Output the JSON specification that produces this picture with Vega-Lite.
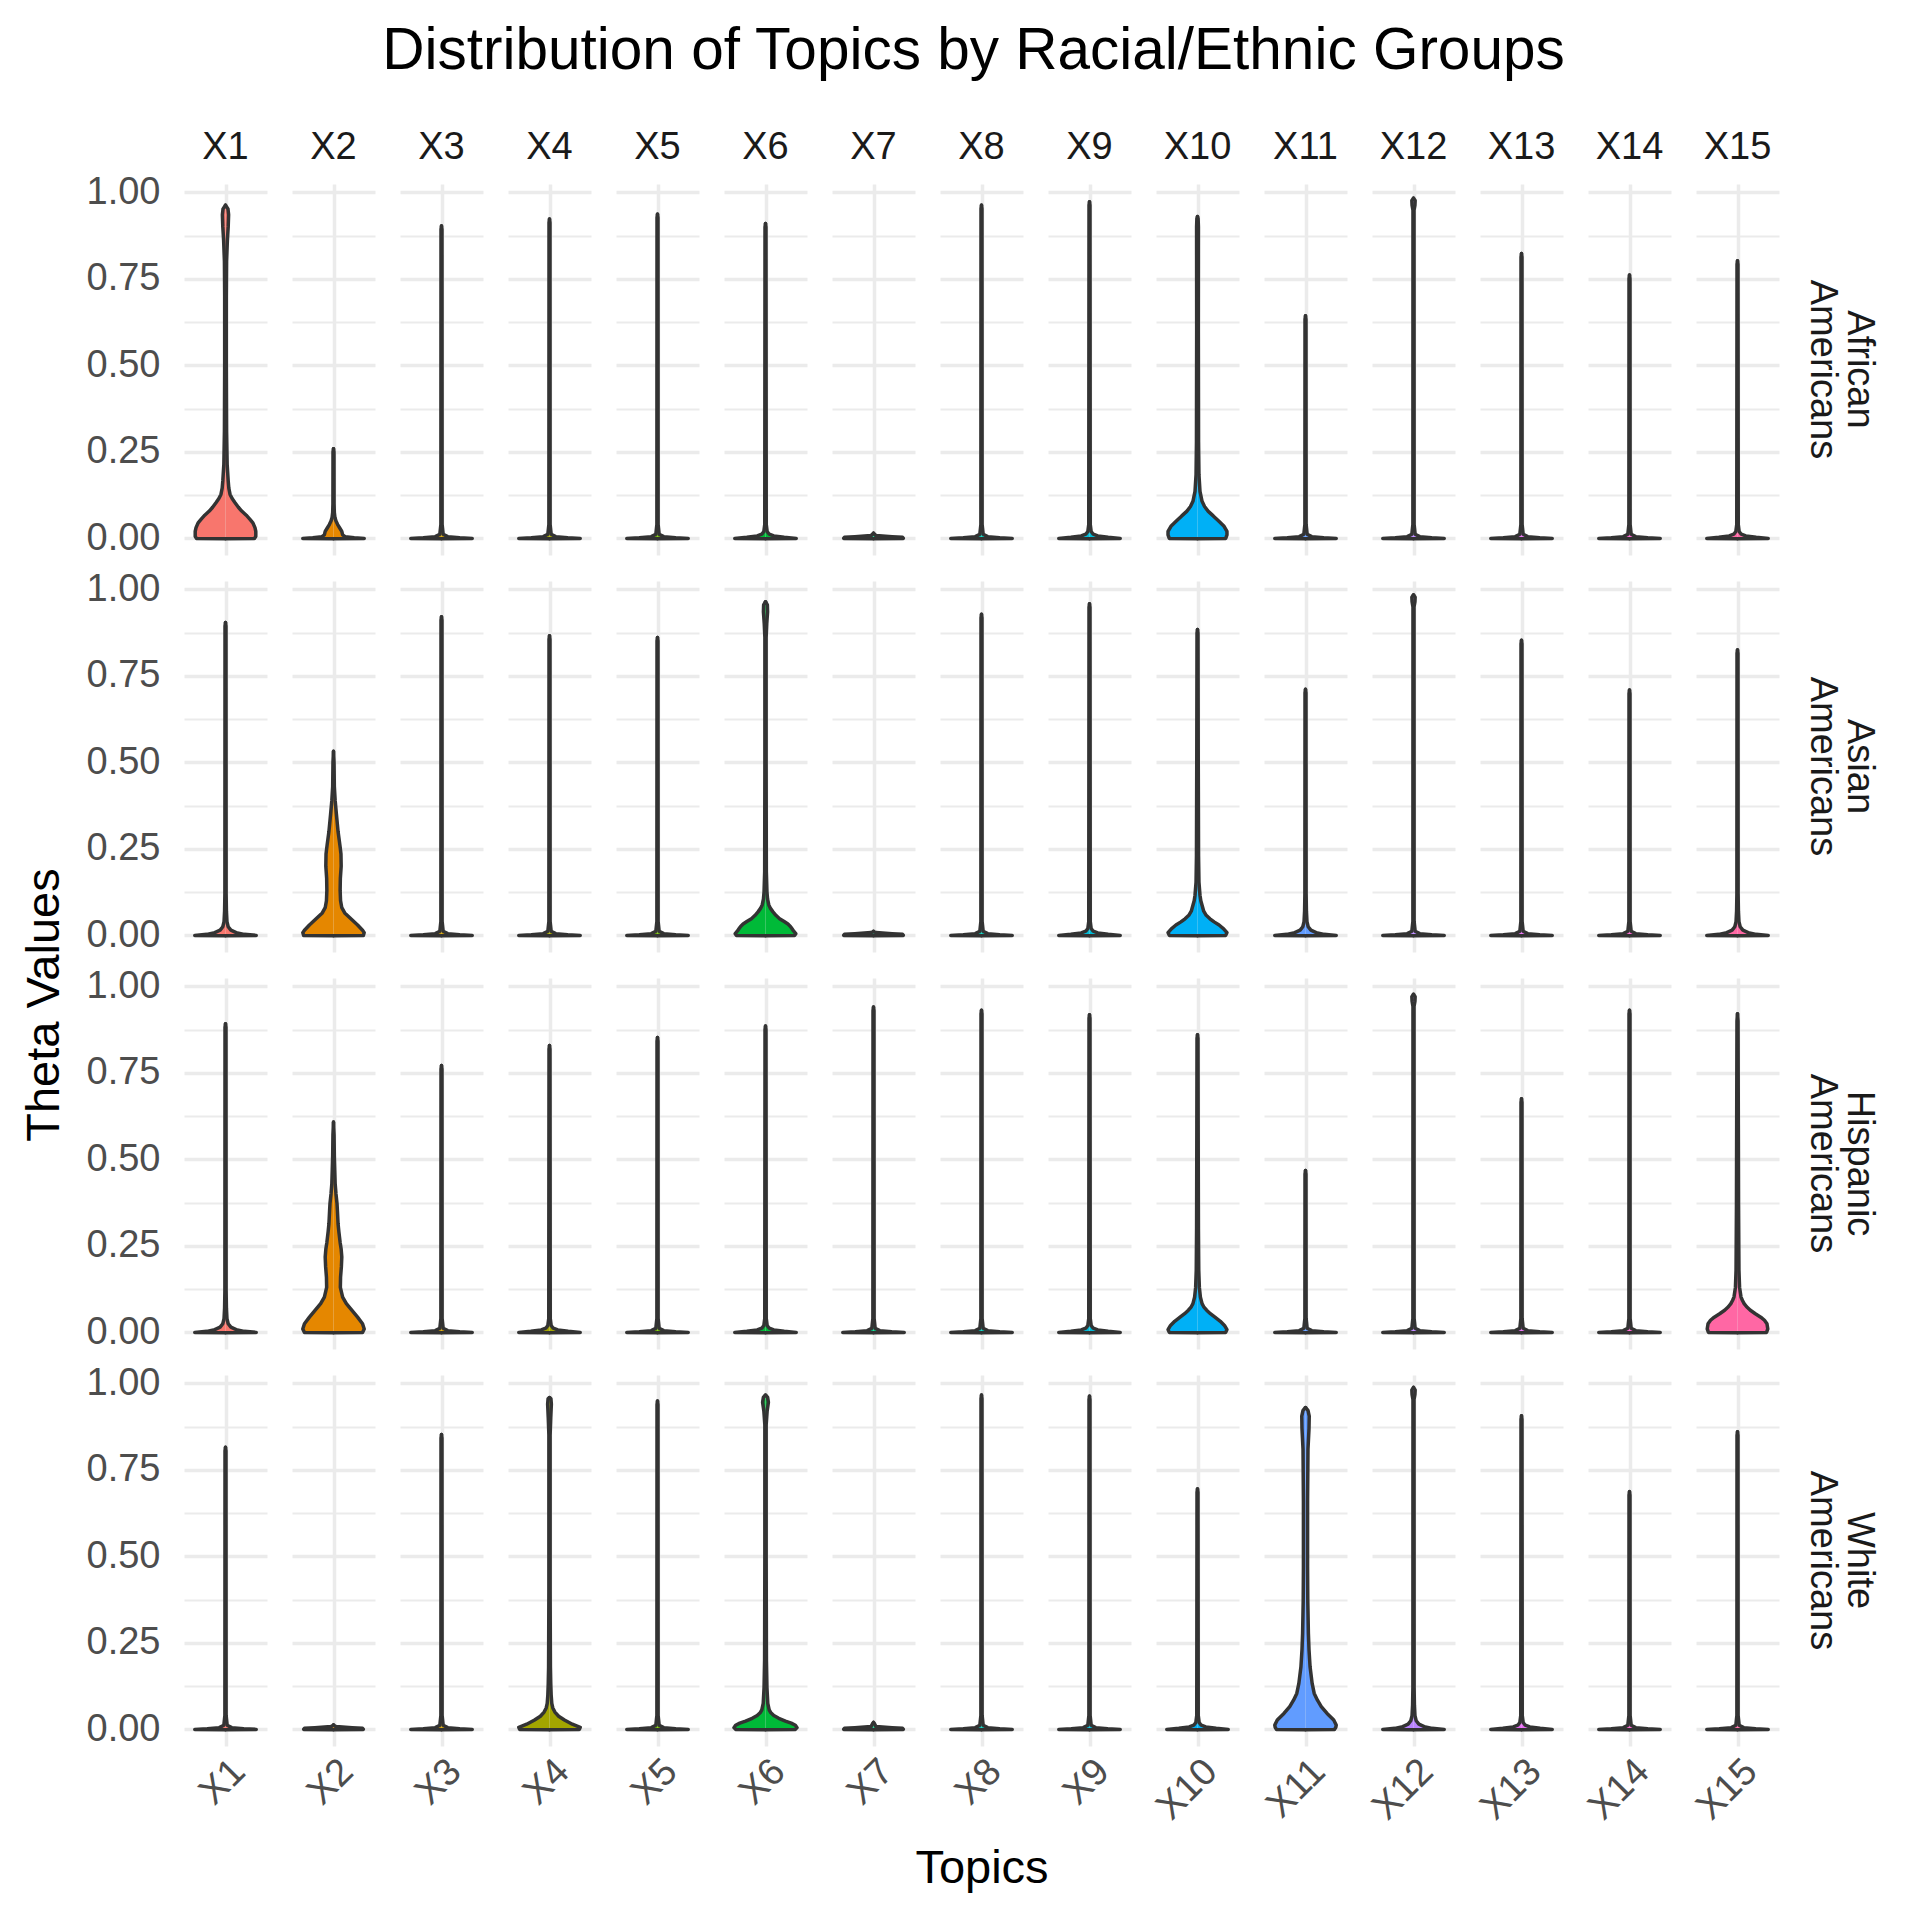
{
"$schema":"https://vega.github.io/schema/vega-lite/v6.json",
"background":"white",
"padding":{"left":20,"top":21,"right":30,"bottom":30},
"title":{"text":"Distribution of Topics by Racial/Ethnic Groups","fontSize":58.5,"fontWeight":"normal","font":"Liberation Sans","color":"#000000","anchor":"middle","offset":48,"dx":24},
"config":{"view":{"stroke":null},"font":"Liberation Sans"},
"data":{"values":[
{"group":"African Americans","topic":"X1","theta":-0.001,"w":0},{"group":"African Americans","topic":"X1","theta":0,"w":0.70},{"group":"African Americans","topic":"X1","theta":0.006,"w":0.73},{"group":"African Americans","topic":"X1","theta":0.02,"w":0.73},{"group":"African Americans","topic":"X1","theta":0.031,"w":0.71},{"group":"African Americans","topic":"X1","theta":0.045,"w":0.66},{"group":"African Americans","topic":"X1","theta":0.055,"w":0.59},{"group":"African Americans","topic":"X1","theta":0.067,"w":0.5},{"group":"African Americans","topic":"X1","theta":0.079,"w":0.39},{"group":"African Americans","topic":"X1","theta":0.09,"w":0.31},{"group":"African Americans","topic":"X1","theta":0.103,"w":0.23},{"group":"African Americans","topic":"X1","theta":0.115,"w":0.16},{"group":"African Americans","topic":"X1","theta":0.127,"w":0.11},{"group":"African Americans","topic":"X1","theta":0.145,"w":0.08},{"group":"African Americans","topic":"X1","theta":0.166,"w":0.065},{"group":"African Americans","topic":"X1","theta":0.214,"w":0.04},{"group":"African Americans","topic":"X1","theta":0.31,"w":0.026},{"group":"African Americans","topic":"X1","theta":0.5,"w":0.02},{"group":"African Americans","topic":"X1","theta":0.7,"w":0.02},{"group":"African Americans","topic":"X1","theta":0.8,"w":0.026},{"group":"African Americans","topic":"X1","theta":0.86,"w":0.045},{"group":"African Americans","topic":"X1","theta":0.9,"w":0.065},{"group":"African Americans","topic":"X1","theta":0.935,"w":0.075},{"group":"African Americans","topic":"X1","theta":0.952,"w":0.06},{"group":"African Americans","topic":"X1","theta":0.963,"w":0},
{"group":"African Americans","topic":"X2","theta":-0.001,"w":0},{"group":"African Americans","topic":"X2","theta":0,"w":0.74},{"group":"African Americans","topic":"X2","theta":0.002,"w":0.5},{"group":"African Americans","topic":"X2","theta":0.005,"w":0.28},{"group":"African Americans","topic":"X2","theta":0.01,"w":0.22},{"group":"African Americans","topic":"X2","theta":0.02,"w":0.2},{"group":"African Americans","topic":"X2","theta":0.03,"w":0.15},{"group":"African Americans","topic":"X2","theta":0.04,"w":0.1},{"group":"African Americans","topic":"X2","theta":0.05,"w":0.06},{"group":"African Americans","topic":"X2","theta":0.06,"w":0.035},{"group":"African Americans","topic":"X2","theta":0.075,"w":0.02},{"group":"African Americans","topic":"X2","theta":0.1,"w":0.014},{"group":"African Americans","topic":"X2","theta":0.25,"w":0.012},{"group":"African Americans","topic":"X2","theta":0.259,"w":0},
{"group":"African Americans","topic":"X3","theta":-0.001,"w":0},{"group":"African Americans","topic":"X3","theta":0,"w":0.74},{"group":"African Americans","topic":"X3","theta":0.002,"w":0.44},{"group":"African Americans","topic":"X3","theta":0.005,"w":0.15},{"group":"African Americans","topic":"X3","theta":0.012,"w":0.04},{"group":"African Americans","topic":"X3","theta":0.04,"w":0.015},{"group":"African Americans","topic":"X3","theta":0.893,"w":0.012},{"group":"African Americans","topic":"X3","theta":0.903,"w":0},
{"group":"African Americans","topic":"X4","theta":-0.001,"w":0},{"group":"African Americans","topic":"X4","theta":0,"w":0.74},{"group":"African Americans","topic":"X4","theta":0.002,"w":0.44},{"group":"African Americans","topic":"X4","theta":0.005,"w":0.15},{"group":"African Americans","topic":"X4","theta":0.012,"w":0.04},{"group":"African Americans","topic":"X4","theta":0.04,"w":0.015},{"group":"African Americans","topic":"X4","theta":0.913,"w":0.012},{"group":"African Americans","topic":"X4","theta":0.923,"w":0},
{"group":"African Americans","topic":"X5","theta":-0.001,"w":0},{"group":"African Americans","topic":"X5","theta":0,"w":0.74},{"group":"African Americans","topic":"X5","theta":0.002,"w":0.44},{"group":"African Americans","topic":"X5","theta":0.005,"w":0.15},{"group":"African Americans","topic":"X5","theta":0.012,"w":0.04},{"group":"African Americans","topic":"X5","theta":0.04,"w":0.015},{"group":"African Americans","topic":"X5","theta":0.927,"w":0.012},{"group":"African Americans","topic":"X5","theta":0.937,"w":0},
{"group":"African Americans","topic":"X6","theta":-0.001,"w":0},{"group":"African Americans","topic":"X6","theta":0,"w":0.74},{"group":"African Americans","topic":"X6","theta":0.003,"w":0.45},{"group":"African Americans","topic":"X6","theta":0.007,"w":0.2},{"group":"African Americans","topic":"X6","theta":0.012,"w":0.09},{"group":"African Americans","topic":"X6","theta":0.02,"w":0.04},{"group":"African Americans","topic":"X6","theta":0.04,"w":0.018},{"group":"African Americans","topic":"X6","theta":0.9,"w":0.012},{"group":"African Americans","topic":"X6","theta":0.91,"w":0},
{"group":"African Americans","topic":"X7","theta":-0.001,"w":0},{"group":"African Americans","topic":"X7","theta":0,"w":0.72},{"group":"African Americans","topic":"X7","theta":0.003,"w":0.7},{"group":"African Americans","topic":"X7","theta":0.005,"w":0.45},{"group":"African Americans","topic":"X7","theta":0.008,"w":0.06},{"group":"African Americans","topic":"X7","theta":0.013,"w":0.015},{"group":"African Americans","topic":"X7","theta":0.015,"w":0},
{"group":"African Americans","topic":"X8","theta":-0.001,"w":0},{"group":"African Americans","topic":"X8","theta":0,"w":0.74},{"group":"African Americans","topic":"X8","theta":0.002,"w":0.44},{"group":"African Americans","topic":"X8","theta":0.005,"w":0.15},{"group":"African Americans","topic":"X8","theta":0.012,"w":0.04},{"group":"African Americans","topic":"X8","theta":0.04,"w":0.015},{"group":"African Americans","topic":"X8","theta":0.953,"w":0.012},{"group":"African Americans","topic":"X8","theta":0.963,"w":0},
{"group":"African Americans","topic":"X9","theta":-0.001,"w":0},{"group":"African Americans","topic":"X9","theta":0,"w":0.74},{"group":"African Americans","topic":"X9","theta":0.003,"w":0.45},{"group":"African Americans","topic":"X9","theta":0.007,"w":0.2},{"group":"African Americans","topic":"X9","theta":0.012,"w":0.09},{"group":"African Americans","topic":"X9","theta":0.02,"w":0.04},{"group":"African Americans","topic":"X9","theta":0.04,"w":0.018},{"group":"African Americans","topic":"X9","theta":0.963,"w":0.012},{"group":"African Americans","topic":"X9","theta":0.973,"w":0},
{"group":"African Americans","topic":"X10","theta":-0.001,"w":0},{"group":"African Americans","topic":"X10","theta":0,"w":0.68},{"group":"African Americans","topic":"X10","theta":0.01,"w":0.71},{"group":"African Americans","topic":"X10","theta":0.02,"w":0.71},{"group":"African Americans","topic":"X10","theta":0.035,"w":0.64},{"group":"African Americans","topic":"X10","theta":0.05,"w":0.51},{"group":"African Americans","topic":"X10","theta":0.065,"w":0.38},{"group":"African Americans","topic":"X10","theta":0.078,"w":0.26},{"group":"African Americans","topic":"X10","theta":0.092,"w":0.17},{"group":"African Americans","topic":"X10","theta":0.107,"w":0.11},{"group":"African Americans","topic":"X10","theta":0.136,"w":0.06},{"group":"African Americans","topic":"X10","theta":0.184,"w":0.035},{"group":"African Americans","topic":"X10","theta":0.28,"w":0.025},{"group":"African Americans","topic":"X10","theta":0.6,"w":0.02},{"group":"African Americans","topic":"X10","theta":0.9,"w":0.022},{"group":"African Americans","topic":"X10","theta":0.925,"w":0.015},{"group":"African Americans","topic":"X10","theta":0.93,"w":0},
{"group":"African Americans","topic":"X11","theta":-0.001,"w":0},{"group":"African Americans","topic":"X11","theta":0,"w":0.74},{"group":"African Americans","topic":"X11","theta":0.002,"w":0.44},{"group":"African Americans","topic":"X11","theta":0.005,"w":0.15},{"group":"African Americans","topic":"X11","theta":0.012,"w":0.04},{"group":"African Americans","topic":"X11","theta":0.04,"w":0.015},{"group":"African Americans","topic":"X11","theta":0.633,"w":0.012},{"group":"African Americans","topic":"X11","theta":0.643,"w":0},
{"group":"African Americans","topic":"X12","theta":-0.001,"w":0},{"group":"African Americans","topic":"X12","theta":0,"w":0.74},{"group":"African Americans","topic":"X12","theta":0.002,"w":0.44},{"group":"African Americans","topic":"X12","theta":0.005,"w":0.15},{"group":"African Americans","topic":"X12","theta":0.012,"w":0.04},{"group":"African Americans","topic":"X12","theta":0.04,"w":0.015},{"group":"African Americans","topic":"X12","theta":0.948,"w":0.013},{"group":"African Americans","topic":"X12","theta":0.963,"w":0.035},{"group":"African Americans","topic":"X12","theta":0.976,"w":0.04},{"group":"African Americans","topic":"X12","theta":0.983,"w":0},
{"group":"African Americans","topic":"X13","theta":-0.001,"w":0},{"group":"African Americans","topic":"X13","theta":0,"w":0.74},{"group":"African Americans","topic":"X13","theta":0.002,"w":0.44},{"group":"African Americans","topic":"X13","theta":0.005,"w":0.15},{"group":"African Americans","topic":"X13","theta":0.012,"w":0.04},{"group":"African Americans","topic":"X13","theta":0.04,"w":0.015},{"group":"African Americans","topic":"X13","theta":0.813,"w":0.012},{"group":"African Americans","topic":"X13","theta":0.823,"w":0},
{"group":"African Americans","topic":"X14","theta":-0.001,"w":0},{"group":"African Americans","topic":"X14","theta":0,"w":0.74},{"group":"African Americans","topic":"X14","theta":0.002,"w":0.44},{"group":"African Americans","topic":"X14","theta":0.005,"w":0.15},{"group":"African Americans","topic":"X14","theta":0.012,"w":0.04},{"group":"African Americans","topic":"X14","theta":0.04,"w":0.015},{"group":"African Americans","topic":"X14","theta":0.751,"w":0.012},{"group":"African Americans","topic":"X14","theta":0.761,"w":0},
{"group":"African Americans","topic":"X15","theta":-0.001,"w":0},{"group":"African Americans","topic":"X15","theta":0,"w":0.74},{"group":"African Americans","topic":"X15","theta":0.003,"w":0.45},{"group":"African Americans","topic":"X15","theta":0.007,"w":0.2},{"group":"African Americans","topic":"X15","theta":0.012,"w":0.09},{"group":"African Americans","topic":"X15","theta":0.02,"w":0.04},{"group":"African Americans","topic":"X15","theta":0.04,"w":0.018},{"group":"African Americans","topic":"X15","theta":0.792,"w":0.012},{"group":"African Americans","topic":"X15","theta":0.802,"w":0},
{"group":"Asian Americans","topic":"X1","theta":-0.001,"w":0},{"group":"Asian Americans","topic":"X1","theta":0,"w":0.74},{"group":"Asian Americans","topic":"X1","theta":0.003,"w":0.45},{"group":"Asian Americans","topic":"X1","theta":0.008,"w":0.26},{"group":"Asian Americans","topic":"X1","theta":0.015,"w":0.13},{"group":"Asian Americans","topic":"X1","theta":0.025,"w":0.065},{"group":"Asian Americans","topic":"X1","theta":0.04,"w":0.035},{"group":"Asian Americans","topic":"X1","theta":0.07,"w":0.022},{"group":"Asian Americans","topic":"X1","theta":0.12,"w":0.015},{"group":"Asian Americans","topic":"X1","theta":0.894,"w":0.012},{"group":"Asian Americans","topic":"X1","theta":0.904,"w":0},
{"group":"Asian Americans","topic":"X2","theta":-0.001,"w":0},{"group":"Asian Americans","topic":"X2","theta":0,"w":0.72},{"group":"Asian Americans","topic":"X2","theta":0.008,"w":0.74},{"group":"Asian Americans","topic":"X2","theta":0.015,"w":0.7},{"group":"Asian Americans","topic":"X2","theta":0.03,"w":0.58},{"group":"Asian Americans","topic":"X2","theta":0.05,"w":0.4},{"group":"Asian Americans","topic":"X2","theta":0.065,"w":0.27},{"group":"Asian Americans","topic":"X2","theta":0.08,"w":0.2},{"group":"Asian Americans","topic":"X2","theta":0.1,"w":0.17},{"group":"Asian Americans","topic":"X2","theta":0.13,"w":0.16},{"group":"Asian Americans","topic":"X2","theta":0.165,"w":0.165},{"group":"Asian Americans","topic":"X2","theta":0.2,"w":0.185},{"group":"Asian Americans","topic":"X2","theta":0.235,"w":0.18},{"group":"Asian Americans","topic":"X2","theta":0.26,"w":0.155},{"group":"Asian Americans","topic":"X2","theta":0.3,"w":0.11},{"group":"Asian Americans","topic":"X2","theta":0.35,"w":0.07},{"group":"Asian Americans","topic":"X2","theta":0.39,"w":0.04},{"group":"Asian Americans","topic":"X2","theta":0.43,"w":0.02},{"group":"Asian Americans","topic":"X2","theta":0.5,"w":0.013},{"group":"Asian Americans","topic":"X2","theta":0.532,"w":0},
{"group":"Asian Americans","topic":"X3","theta":-0.001,"w":0},{"group":"Asian Americans","topic":"X3","theta":0,"w":0.74},{"group":"Asian Americans","topic":"X3","theta":0.002,"w":0.44},{"group":"Asian Americans","topic":"X3","theta":0.005,"w":0.15},{"group":"Asian Americans","topic":"X3","theta":0.012,"w":0.04},{"group":"Asian Americans","topic":"X3","theta":0.04,"w":0.015},{"group":"Asian Americans","topic":"X3","theta":0.911,"w":0.012},{"group":"Asian Americans","topic":"X3","theta":0.921,"w":0},
{"group":"Asian Americans","topic":"X4","theta":-0.001,"w":0},{"group":"Asian Americans","topic":"X4","theta":0,"w":0.74},{"group":"Asian Americans","topic":"X4","theta":0.002,"w":0.44},{"group":"Asian Americans","topic":"X4","theta":0.005,"w":0.15},{"group":"Asian Americans","topic":"X4","theta":0.012,"w":0.04},{"group":"Asian Americans","topic":"X4","theta":0.04,"w":0.015},{"group":"Asian Americans","topic":"X4","theta":0.856,"w":0.012},{"group":"Asian Americans","topic":"X4","theta":0.866,"w":0},
{"group":"Asian Americans","topic":"X5","theta":-0.001,"w":0},{"group":"Asian Americans","topic":"X5","theta":0,"w":0.74},{"group":"Asian Americans","topic":"X5","theta":0.002,"w":0.44},{"group":"Asian Americans","topic":"X5","theta":0.005,"w":0.15},{"group":"Asian Americans","topic":"X5","theta":0.012,"w":0.04},{"group":"Asian Americans","topic":"X5","theta":0.04,"w":0.015},{"group":"Asian Americans","topic":"X5","theta":0.851,"w":0.012},{"group":"Asian Americans","topic":"X5","theta":0.861,"w":0},
{"group":"Asian Americans","topic":"X6","theta":-0.001,"w":0},{"group":"Asian Americans","topic":"X6","theta":0,"w":0.7},{"group":"Asian Americans","topic":"X6","theta":0.005,"w":0.73},{"group":"Asian Americans","topic":"X6","theta":0.012,"w":0.68},{"group":"Asian Americans","topic":"X6","theta":0.019,"w":0.64},{"group":"Asian Americans","topic":"X6","theta":0.026,"w":0.6},{"group":"Asian Americans","topic":"X6","theta":0.033,"w":0.54},{"group":"Asian Americans","topic":"X6","theta":0.04,"w":0.45},{"group":"Asian Americans","topic":"X6","theta":0.048,"w":0.34},{"group":"Asian Americans","topic":"X6","theta":0.058,"w":0.25},{"group":"Asian Americans","topic":"X6","theta":0.068,"w":0.18},{"group":"Asian Americans","topic":"X6","theta":0.078,"w":0.12},{"group":"Asian Americans","topic":"X6","theta":0.088,"w":0.08},{"group":"Asian Americans","topic":"X6","theta":0.105,"w":0.05},{"group":"Asian Americans","topic":"X6","theta":0.126,"w":0.035},{"group":"Asian Americans","topic":"X6","theta":0.184,"w":0.02},{"group":"Asian Americans","topic":"X6","theta":0.5,"w":0.015},{"group":"Asian Americans","topic":"X6","theta":0.86,"w":0.015},{"group":"Asian Americans","topic":"X6","theta":0.9,"w":0.03},{"group":"Asian Americans","topic":"X6","theta":0.935,"w":0.05},{"group":"Asian Americans","topic":"X6","theta":0.955,"w":0.045},{"group":"Asian Americans","topic":"X6","theta":0.964,"w":0},
{"group":"Asian Americans","topic":"X7","theta":-0.001,"w":0},{"group":"Asian Americans","topic":"X7","theta":0,"w":0.72},{"group":"Asian Americans","topic":"X7","theta":0.003,"w":0.7},{"group":"Asian Americans","topic":"X7","theta":0.005,"w":0.45},{"group":"Asian Americans","topic":"X7","theta":0.008,"w":0.06},{"group":"Asian Americans","topic":"X7","theta":0.01,"w":0.015},{"group":"Asian Americans","topic":"X7","theta":0.012,"w":0},
{"group":"Asian Americans","topic":"X8","theta":-0.001,"w":0},{"group":"Asian Americans","topic":"X8","theta":0,"w":0.74},{"group":"Asian Americans","topic":"X8","theta":0.002,"w":0.44},{"group":"Asian Americans","topic":"X8","theta":0.005,"w":0.15},{"group":"Asian Americans","topic":"X8","theta":0.012,"w":0.04},{"group":"Asian Americans","topic":"X8","theta":0.04,"w":0.015},{"group":"Asian Americans","topic":"X8","theta":0.918,"w":0.012},{"group":"Asian Americans","topic":"X8","theta":0.928,"w":0},
{"group":"Asian Americans","topic":"X9","theta":-0.001,"w":0},{"group":"Asian Americans","topic":"X9","theta":0,"w":0.74},{"group":"Asian Americans","topic":"X9","theta":0.003,"w":0.45},{"group":"Asian Americans","topic":"X9","theta":0.007,"w":0.2},{"group":"Asian Americans","topic":"X9","theta":0.012,"w":0.09},{"group":"Asian Americans","topic":"X9","theta":0.02,"w":0.04},{"group":"Asian Americans","topic":"X9","theta":0.04,"w":0.018},{"group":"Asian Americans","topic":"X9","theta":0.948,"w":0.012},{"group":"Asian Americans","topic":"X9","theta":0.958,"w":0},
{"group":"Asian Americans","topic":"X10","theta":-0.001,"w":0},{"group":"Asian Americans","topic":"X10","theta":0,"w":0.68},{"group":"Asian Americans","topic":"X10","theta":0.008,"w":0.71},{"group":"Asian Americans","topic":"X10","theta":0.019,"w":0.63},{"group":"Asian Americans","topic":"X10","theta":0.03,"w":0.52},{"group":"Asian Americans","topic":"X10","theta":0.039,"w":0.4},{"group":"Asian Americans","topic":"X10","theta":0.048,"w":0.3},{"group":"Asian Americans","topic":"X10","theta":0.058,"w":0.21},{"group":"Asian Americans","topic":"X10","theta":0.07,"w":0.15},{"group":"Asian Americans","topic":"X10","theta":0.087,"w":0.11},{"group":"Asian Americans","topic":"X10","theta":0.1,"w":0.08},{"group":"Asian Americans","topic":"X10","theta":0.116,"w":0.06},{"group":"Asian Americans","topic":"X10","theta":0.154,"w":0.035},{"group":"Asian Americans","topic":"X10","theta":0.23,"w":0.025},{"group":"Asian Americans","topic":"X10","theta":0.5,"w":0.018},{"group":"Asian Americans","topic":"X10","theta":0.874,"w":0.012},{"group":"Asian Americans","topic":"X10","theta":0.884,"w":0},
{"group":"Asian Americans","topic":"X11","theta":-0.001,"w":0},{"group":"Asian Americans","topic":"X11","theta":0,"w":0.74},{"group":"Asian Americans","topic":"X11","theta":0.003,"w":0.45},{"group":"Asian Americans","topic":"X11","theta":0.008,"w":0.26},{"group":"Asian Americans","topic":"X11","theta":0.015,"w":0.13},{"group":"Asian Americans","topic":"X11","theta":0.025,"w":0.065},{"group":"Asian Americans","topic":"X11","theta":0.04,"w":0.035},{"group":"Asian Americans","topic":"X11","theta":0.07,"w":0.022},{"group":"Asian Americans","topic":"X11","theta":0.12,"w":0.015},{"group":"Asian Americans","topic":"X11","theta":0.701,"w":0.012},{"group":"Asian Americans","topic":"X11","theta":0.711,"w":0},
{"group":"Asian Americans","topic":"X12","theta":-0.001,"w":0},{"group":"Asian Americans","topic":"X12","theta":0,"w":0.74},{"group":"Asian Americans","topic":"X12","theta":0.002,"w":0.44},{"group":"Asian Americans","topic":"X12","theta":0.005,"w":0.15},{"group":"Asian Americans","topic":"X12","theta":0.012,"w":0.04},{"group":"Asian Americans","topic":"X12","theta":0.04,"w":0.015},{"group":"Asian Americans","topic":"X12","theta":0.949,"w":0.013},{"group":"Asian Americans","topic":"X12","theta":0.964,"w":0.035},{"group":"Asian Americans","topic":"X12","theta":0.977,"w":0.04},{"group":"Asian Americans","topic":"X12","theta":0.984,"w":0},
{"group":"Asian Americans","topic":"X13","theta":-0.001,"w":0},{"group":"Asian Americans","topic":"X13","theta":0,"w":0.74},{"group":"Asian Americans","topic":"X13","theta":0.002,"w":0.44},{"group":"Asian Americans","topic":"X13","theta":0.005,"w":0.15},{"group":"Asian Americans","topic":"X13","theta":0.012,"w":0.04},{"group":"Asian Americans","topic":"X13","theta":0.04,"w":0.015},{"group":"Asian Americans","topic":"X13","theta":0.843,"w":0.012},{"group":"Asian Americans","topic":"X13","theta":0.853,"w":0},
{"group":"Asian Americans","topic":"X14","theta":-0.001,"w":0},{"group":"Asian Americans","topic":"X14","theta":0,"w":0.74},{"group":"Asian Americans","topic":"X14","theta":0.002,"w":0.44},{"group":"Asian Americans","topic":"X14","theta":0.005,"w":0.15},{"group":"Asian Americans","topic":"X14","theta":0.012,"w":0.04},{"group":"Asian Americans","topic":"X14","theta":0.04,"w":0.015},{"group":"Asian Americans","topic":"X14","theta":0.699,"w":0.012},{"group":"Asian Americans","topic":"X14","theta":0.709,"w":0},
{"group":"Asian Americans","topic":"X15","theta":-0.001,"w":0},{"group":"Asian Americans","topic":"X15","theta":0,"w":0.74},{"group":"Asian Americans","topic":"X15","theta":0.003,"w":0.45},{"group":"Asian Americans","topic":"X15","theta":0.008,"w":0.26},{"group":"Asian Americans","topic":"X15","theta":0.015,"w":0.13},{"group":"Asian Americans","topic":"X15","theta":0.025,"w":0.065},{"group":"Asian Americans","topic":"X15","theta":0.04,"w":0.035},{"group":"Asian Americans","topic":"X15","theta":0.07,"w":0.022},{"group":"Asian Americans","topic":"X15","theta":0.12,"w":0.015},{"group":"Asian Americans","topic":"X15","theta":0.815,"w":0.012},{"group":"Asian Americans","topic":"X15","theta":0.825,"w":0},
{"group":"Hispanic Americans","topic":"X1","theta":-0.001,"w":0},{"group":"Hispanic Americans","topic":"X1","theta":0,"w":0.74},{"group":"Hispanic Americans","topic":"X1","theta":0.003,"w":0.45},{"group":"Hispanic Americans","topic":"X1","theta":0.008,"w":0.26},{"group":"Hispanic Americans","topic":"X1","theta":0.015,"w":0.13},{"group":"Hispanic Americans","topic":"X1","theta":0.025,"w":0.065},{"group":"Hispanic Americans","topic":"X1","theta":0.04,"w":0.035},{"group":"Hispanic Americans","topic":"X1","theta":0.07,"w":0.022},{"group":"Hispanic Americans","topic":"X1","theta":0.12,"w":0.015},{"group":"Hispanic Americans","topic":"X1","theta":0.882,"w":0.012},{"group":"Hispanic Americans","topic":"X1","theta":0.892,"w":0},
{"group":"Hispanic Americans","topic":"X2","theta":-0.001,"w":0},{"group":"Hispanic Americans","topic":"X2","theta":0,"w":0.7},{"group":"Hispanic Americans","topic":"X2","theta":0.01,"w":0.74},{"group":"Hispanic Americans","topic":"X2","theta":0.025,"w":0.7},{"group":"Hispanic Americans","topic":"X2","theta":0.044,"w":0.58},{"group":"Hispanic Americans","topic":"X2","theta":0.064,"w":0.44},{"group":"Hispanic Americans","topic":"X2","theta":0.083,"w":0.31},{"group":"Hispanic Americans","topic":"X2","theta":0.102,"w":0.22},{"group":"Hispanic Americans","topic":"X2","theta":0.13,"w":0.165},{"group":"Hispanic Americans","topic":"X2","theta":0.16,"w":0.17},{"group":"Hispanic Americans","topic":"X2","theta":0.19,"w":0.19},{"group":"Hispanic Americans","topic":"X2","theta":0.218,"w":0.2},{"group":"Hispanic Americans","topic":"X2","theta":0.24,"w":0.185},{"group":"Hispanic Americans","topic":"X2","theta":0.26,"w":0.16},{"group":"Hispanic Americans","topic":"X2","theta":0.29,"w":0.13},{"group":"Hispanic Americans","topic":"X2","theta":0.314,"w":0.11},{"group":"Hispanic Americans","topic":"X2","theta":0.35,"w":0.095},{"group":"Hispanic Americans","topic":"X2","theta":0.372,"w":0.085},{"group":"Hispanic Americans","topic":"X2","theta":0.4,"w":0.06},{"group":"Hispanic Americans","topic":"X2","theta":0.43,"w":0.04},{"group":"Hispanic Americans","topic":"X2","theta":0.47,"w":0.03},{"group":"Hispanic Americans","topic":"X2","theta":0.51,"w":0.02},{"group":"Hispanic Americans","topic":"X2","theta":0.57,"w":0.014},{"group":"Hispanic Americans","topic":"X2","theta":0.608,"w":0},
{"group":"Hispanic Americans","topic":"X3","theta":-0.001,"w":0},{"group":"Hispanic Americans","topic":"X3","theta":0,"w":0.74},{"group":"Hispanic Americans","topic":"X3","theta":0.002,"w":0.44},{"group":"Hispanic Americans","topic":"X3","theta":0.005,"w":0.15},{"group":"Hispanic Americans","topic":"X3","theta":0.012,"w":0.04},{"group":"Hispanic Americans","topic":"X3","theta":0.04,"w":0.015},{"group":"Hispanic Americans","topic":"X3","theta":0.761,"w":0.012},{"group":"Hispanic Americans","topic":"X3","theta":0.771,"w":0},
{"group":"Hispanic Americans","topic":"X4","theta":-0.001,"w":0},{"group":"Hispanic Americans","topic":"X4","theta":0,"w":0.74},{"group":"Hispanic Americans","topic":"X4","theta":0.003,"w":0.45},{"group":"Hispanic Americans","topic":"X4","theta":0.007,"w":0.2},{"group":"Hispanic Americans","topic":"X4","theta":0.012,"w":0.09},{"group":"Hispanic Americans","topic":"X4","theta":0.02,"w":0.04},{"group":"Hispanic Americans","topic":"X4","theta":0.04,"w":0.018},{"group":"Hispanic Americans","topic":"X4","theta":0.819,"w":0.012},{"group":"Hispanic Americans","topic":"X4","theta":0.829,"w":0},
{"group":"Hispanic Americans","topic":"X5","theta":-0.001,"w":0},{"group":"Hispanic Americans","topic":"X5","theta":0,"w":0.74},{"group":"Hispanic Americans","topic":"X5","theta":0.002,"w":0.44},{"group":"Hispanic Americans","topic":"X5","theta":0.005,"w":0.15},{"group":"Hispanic Americans","topic":"X5","theta":0.012,"w":0.04},{"group":"Hispanic Americans","topic":"X5","theta":0.04,"w":0.015},{"group":"Hispanic Americans","topic":"X5","theta":0.842,"w":0.012},{"group":"Hispanic Americans","topic":"X5","theta":0.852,"w":0},
{"group":"Hispanic Americans","topic":"X6","theta":-0.001,"w":0},{"group":"Hispanic Americans","topic":"X6","theta":0,"w":0.74},{"group":"Hispanic Americans","topic":"X6","theta":0.003,"w":0.45},{"group":"Hispanic Americans","topic":"X6","theta":0.007,"w":0.2},{"group":"Hispanic Americans","topic":"X6","theta":0.012,"w":0.09},{"group":"Hispanic Americans","topic":"X6","theta":0.02,"w":0.04},{"group":"Hispanic Americans","topic":"X6","theta":0.04,"w":0.018},{"group":"Hispanic Americans","topic":"X6","theta":0.875,"w":0.012},{"group":"Hispanic Americans","topic":"X6","theta":0.885,"w":0},
{"group":"Hispanic Americans","topic":"X7","theta":-0.001,"w":0},{"group":"Hispanic Americans","topic":"X7","theta":0,"w":0.74},{"group":"Hispanic Americans","topic":"X7","theta":0.002,"w":0.44},{"group":"Hispanic Americans","topic":"X7","theta":0.005,"w":0.15},{"group":"Hispanic Americans","topic":"X7","theta":0.012,"w":0.04},{"group":"Hispanic Americans","topic":"X7","theta":0.04,"w":0.015},{"group":"Hispanic Americans","topic":"X7","theta":0.93,"w":0.012},{"group":"Hispanic Americans","topic":"X7","theta":0.94,"w":0},
{"group":"Hispanic Americans","topic":"X8","theta":-0.001,"w":0},{"group":"Hispanic Americans","topic":"X8","theta":0,"w":0.74},{"group":"Hispanic Americans","topic":"X8","theta":0.002,"w":0.44},{"group":"Hispanic Americans","topic":"X8","theta":0.005,"w":0.15},{"group":"Hispanic Americans","topic":"X8","theta":0.012,"w":0.04},{"group":"Hispanic Americans","topic":"X8","theta":0.04,"w":0.015},{"group":"Hispanic Americans","topic":"X8","theta":0.921,"w":0.012},{"group":"Hispanic Americans","topic":"X8","theta":0.931,"w":0},
{"group":"Hispanic Americans","topic":"X9","theta":-0.001,"w":0},{"group":"Hispanic Americans","topic":"X9","theta":0,"w":0.74},{"group":"Hispanic Americans","topic":"X9","theta":0.003,"w":0.45},{"group":"Hispanic Americans","topic":"X9","theta":0.007,"w":0.2},{"group":"Hispanic Americans","topic":"X9","theta":0.012,"w":0.09},{"group":"Hispanic Americans","topic":"X9","theta":0.02,"w":0.04},{"group":"Hispanic Americans","topic":"X9","theta":0.04,"w":0.018},{"group":"Hispanic Americans","topic":"X9","theta":0.908,"w":0.012},{"group":"Hispanic Americans","topic":"X9","theta":0.918,"w":0},
{"group":"Hispanic Americans","topic":"X10","theta":-0.001,"w":0},{"group":"Hispanic Americans","topic":"X10","theta":0,"w":0.68},{"group":"Hispanic Americans","topic":"X10","theta":0.008,"w":0.71},{"group":"Hispanic Americans","topic":"X10","theta":0.02,"w":0.65},{"group":"Hispanic Americans","topic":"X10","theta":0.032,"w":0.55},{"group":"Hispanic Americans","topic":"X10","theta":0.044,"w":0.42},{"group":"Hispanic Americans","topic":"X10","theta":0.054,"w":0.31},{"group":"Hispanic Americans","topic":"X10","theta":0.064,"w":0.22},{"group":"Hispanic Americans","topic":"X10","theta":0.074,"w":0.15},{"group":"Hispanic Americans","topic":"X10","theta":0.083,"w":0.11},{"group":"Hispanic Americans","topic":"X10","theta":0.102,"w":0.07},{"group":"Hispanic Americans","topic":"X10","theta":0.13,"w":0.045},{"group":"Hispanic Americans","topic":"X10","theta":0.18,"w":0.03},{"group":"Hispanic Americans","topic":"X10","theta":0.3,"w":0.022},{"group":"Hispanic Americans","topic":"X10","theta":0.6,"w":0.016},{"group":"Hispanic Americans","topic":"X10","theta":0.85,"w":0.012},{"group":"Hispanic Americans","topic":"X10","theta":0.86,"w":0},
{"group":"Hispanic Americans","topic":"X11","theta":-0.001,"w":0},{"group":"Hispanic Americans","topic":"X11","theta":0,"w":0.74},{"group":"Hispanic Americans","topic":"X11","theta":0.002,"w":0.44},{"group":"Hispanic Americans","topic":"X11","theta":0.005,"w":0.15},{"group":"Hispanic Americans","topic":"X11","theta":0.012,"w":0.04},{"group":"Hispanic Americans","topic":"X11","theta":0.04,"w":0.015},{"group":"Hispanic Americans","topic":"X11","theta":0.458,"w":0.012},{"group":"Hispanic Americans","topic":"X11","theta":0.468,"w":0},
{"group":"Hispanic Americans","topic":"X12","theta":-0.001,"w":0},{"group":"Hispanic Americans","topic":"X12","theta":0,"w":0.74},{"group":"Hispanic Americans","topic":"X12","theta":0.002,"w":0.44},{"group":"Hispanic Americans","topic":"X12","theta":0.005,"w":0.15},{"group":"Hispanic Americans","topic":"X12","theta":0.012,"w":0.04},{"group":"Hispanic Americans","topic":"X12","theta":0.04,"w":0.015},{"group":"Hispanic Americans","topic":"X12","theta":0.942,"w":0.013},{"group":"Hispanic Americans","topic":"X12","theta":0.957,"w":0.035},{"group":"Hispanic Americans","topic":"X12","theta":0.97,"w":0.04},{"group":"Hispanic Americans","topic":"X12","theta":0.977,"w":0},
{"group":"Hispanic Americans","topic":"X13","theta":-0.001,"w":0},{"group":"Hispanic Americans","topic":"X13","theta":0,"w":0.74},{"group":"Hispanic Americans","topic":"X13","theta":0.002,"w":0.44},{"group":"Hispanic Americans","topic":"X13","theta":0.005,"w":0.15},{"group":"Hispanic Americans","topic":"X13","theta":0.012,"w":0.04},{"group":"Hispanic Americans","topic":"X13","theta":0.04,"w":0.015},{"group":"Hispanic Americans","topic":"X13","theta":0.665,"w":0.012},{"group":"Hispanic Americans","topic":"X13","theta":0.675,"w":0},
{"group":"Hispanic Americans","topic":"X14","theta":-0.001,"w":0},{"group":"Hispanic Americans","topic":"X14","theta":0,"w":0.74},{"group":"Hispanic Americans","topic":"X14","theta":0.002,"w":0.44},{"group":"Hispanic Americans","topic":"X14","theta":0.005,"w":0.15},{"group":"Hispanic Americans","topic":"X14","theta":0.012,"w":0.04},{"group":"Hispanic Americans","topic":"X14","theta":0.04,"w":0.015},{"group":"Hispanic Americans","topic":"X14","theta":0.921,"w":0.012},{"group":"Hispanic Americans","topic":"X14","theta":0.931,"w":0},
{"group":"Hispanic Americans","topic":"X15","theta":-0.001,"w":0},{"group":"Hispanic Americans","topic":"X15","theta":0,"w":0.7},{"group":"Hispanic Americans","topic":"X15","theta":0.01,"w":0.73},{"group":"Hispanic Americans","topic":"X15","theta":0.025,"w":0.71},{"group":"Hispanic Americans","topic":"X15","theta":0.035,"w":0.65},{"group":"Hispanic Americans","topic":"X15","theta":0.044,"w":0.56},{"group":"Hispanic Americans","topic":"X15","theta":0.054,"w":0.43},{"group":"Hispanic Americans","topic":"X15","theta":0.064,"w":0.31},{"group":"Hispanic Americans","topic":"X15","theta":0.074,"w":0.22},{"group":"Hispanic Americans","topic":"X15","theta":0.083,"w":0.16},{"group":"Hispanic Americans","topic":"X15","theta":0.092,"w":0.12},{"group":"Hispanic Americans","topic":"X15","theta":0.102,"w":0.085},{"group":"Hispanic Americans","topic":"X15","theta":0.13,"w":0.05},{"group":"Hispanic Americans","topic":"X15","theta":0.18,"w":0.035},{"group":"Hispanic Americans","topic":"X15","theta":0.37,"w":0.025},{"group":"Hispanic Americans","topic":"X15","theta":0.6,"w":0.02},{"group":"Hispanic Americans","topic":"X15","theta":0.9,"w":0.013},{"group":"Hispanic Americans","topic":"X15","theta":0.921,"w":0},
{"group":"White Americans","topic":"X1","theta":-0.001,"w":0},{"group":"White Americans","topic":"X1","theta":0,"w":0.74},{"group":"White Americans","topic":"X1","theta":0.002,"w":0.44},{"group":"White Americans","topic":"X1","theta":0.005,"w":0.15},{"group":"White Americans","topic":"X1","theta":0.012,"w":0.04},{"group":"White Americans","topic":"X1","theta":0.04,"w":0.015},{"group":"White Americans","topic":"X1","theta":0.805,"w":0.012},{"group":"White Americans","topic":"X1","theta":0.815,"w":0},
{"group":"White Americans","topic":"X2","theta":-0.001,"w":0},{"group":"White Americans","topic":"X2","theta":0,"w":0.72},{"group":"White Americans","topic":"X2","theta":0.003,"w":0.7},{"group":"White Americans","topic":"X2","theta":0.005,"w":0.45},{"group":"White Americans","topic":"X2","theta":0.008,"w":0.06},{"group":"White Americans","topic":"X2","theta":0.011,"w":0.015},{"group":"White Americans","topic":"X2","theta":0.013,"w":0},
{"group":"White Americans","topic":"X3","theta":-0.001,"w":0},{"group":"White Americans","topic":"X3","theta":0,"w":0.74},{"group":"White Americans","topic":"X3","theta":0.002,"w":0.44},{"group":"White Americans","topic":"X3","theta":0.005,"w":0.15},{"group":"White Americans","topic":"X3","theta":0.012,"w":0.04},{"group":"White Americans","topic":"X3","theta":0.04,"w":0.015},{"group":"White Americans","topic":"X3","theta":0.842,"w":0.012},{"group":"White Americans","topic":"X3","theta":0.852,"w":0},
{"group":"White Americans","topic":"X4","theta":-0.001,"w":0},{"group":"White Americans","topic":"X4","theta":0,"w":0.72},{"group":"White Americans","topic":"X4","theta":0.006,"w":0.74},{"group":"White Americans","topic":"X4","theta":0.015,"w":0.55},{"group":"White Americans","topic":"X4","theta":0.027,"w":0.36},{"group":"White Americans","topic":"X4","theta":0.038,"w":0.22},{"group":"White Americans","topic":"X4","theta":0.05,"w":0.13},{"group":"White Americans","topic":"X4","theta":0.062,"w":0.08},{"group":"White Americans","topic":"X4","theta":0.075,"w":0.055},{"group":"White Americans","topic":"X4","theta":0.1,"w":0.04},{"group":"White Americans","topic":"X4","theta":0.133,"w":0.03},{"group":"White Americans","topic":"X4","theta":0.18,"w":0.022},{"group":"White Americans","topic":"X4","theta":0.4,"w":0.015},{"group":"White Americans","topic":"X4","theta":0.85,"w":0.015},{"group":"White Americans","topic":"X4","theta":0.9,"w":0.03},{"group":"White Americans","topic":"X4","theta":0.94,"w":0.045},{"group":"White Americans","topic":"X4","theta":0.955,"w":0.035},{"group":"White Americans","topic":"X4","theta":0.959,"w":0},
{"group":"White Americans","topic":"X5","theta":-0.001,"w":0},{"group":"White Americans","topic":"X5","theta":0,"w":0.74},{"group":"White Americans","topic":"X5","theta":0.002,"w":0.44},{"group":"White Americans","topic":"X5","theta":0.005,"w":0.15},{"group":"White Americans","topic":"X5","theta":0.012,"w":0.04},{"group":"White Americans","topic":"X5","theta":0.04,"w":0.015},{"group":"White Americans","topic":"X5","theta":0.939,"w":0.012},{"group":"White Americans","topic":"X5","theta":0.949,"w":0},
{"group":"White Americans","topic":"X6","theta":-0.001,"w":0},{"group":"White Americans","topic":"X6","theta":0,"w":0.72},{"group":"White Americans","topic":"X6","theta":0.005,"w":0.76},{"group":"White Americans","topic":"X6","theta":0.012,"w":0.72},{"group":"White Americans","topic":"X6","theta":0.018,"w":0.62},{"group":"White Americans","topic":"X6","theta":0.024,"w":0.48},{"group":"White Americans","topic":"X6","theta":0.032,"w":0.32},{"group":"White Americans","topic":"X6","theta":0.04,"w":0.2},{"group":"White Americans","topic":"X6","theta":0.048,"w":0.13},{"group":"White Americans","topic":"X6","theta":0.056,"w":0.09},{"group":"White Americans","topic":"X6","theta":0.075,"w":0.055},{"group":"White Americans","topic":"X6","theta":0.12,"w":0.035},{"group":"White Americans","topic":"X6","theta":0.2,"w":0.022},{"group":"White Americans","topic":"X6","theta":0.5,"w":0.016},{"group":"White Americans","topic":"X6","theta":0.88,"w":0.016},{"group":"White Americans","topic":"X6","theta":0.92,"w":0.04},{"group":"White Americans","topic":"X6","theta":0.945,"w":0.07},{"group":"White Americans","topic":"X6","theta":0.96,"w":0.05},{"group":"White Americans","topic":"X6","theta":0.966,"w":0},
{"group":"White Americans","topic":"X7","theta":-0.001,"w":0},{"group":"White Americans","topic":"X7","theta":0,"w":0.72},{"group":"White Americans","topic":"X7","theta":0.003,"w":0.7},{"group":"White Americans","topic":"X7","theta":0.005,"w":0.45},{"group":"White Americans","topic":"X7","theta":0.008,"w":0.06},{"group":"White Americans","topic":"X7","theta":0.018,"w":0.015},{"group":"White Americans","topic":"X7","theta":0.02,"w":0},
{"group":"White Americans","topic":"X8","theta":-0.001,"w":0},{"group":"White Americans","topic":"X8","theta":0,"w":0.74},{"group":"White Americans","topic":"X8","theta":0.002,"w":0.44},{"group":"White Americans","topic":"X8","theta":0.005,"w":0.15},{"group":"White Americans","topic":"X8","theta":0.012,"w":0.04},{"group":"White Americans","topic":"X8","theta":0.04,"w":0.015},{"group":"White Americans","topic":"X8","theta":0.956,"w":0.012},{"group":"White Americans","topic":"X8","theta":0.966,"w":0},
{"group":"White Americans","topic":"X9","theta":-0.001,"w":0},{"group":"White Americans","topic":"X9","theta":0,"w":0.74},{"group":"White Americans","topic":"X9","theta":0.002,"w":0.44},{"group":"White Americans","topic":"X9","theta":0.005,"w":0.15},{"group":"White Americans","topic":"X9","theta":0.012,"w":0.04},{"group":"White Americans","topic":"X9","theta":0.04,"w":0.015},{"group":"White Americans","topic":"X9","theta":0.953,"w":0.012},{"group":"White Americans","topic":"X9","theta":0.963,"w":0},
{"group":"White Americans","topic":"X10","theta":-0.001,"w":0},{"group":"White Americans","topic":"X10","theta":0,"w":0.74},{"group":"White Americans","topic":"X10","theta":0.003,"w":0.45},{"group":"White Americans","topic":"X10","theta":0.007,"w":0.2},{"group":"White Americans","topic":"X10","theta":0.012,"w":0.09},{"group":"White Americans","topic":"X10","theta":0.02,"w":0.04},{"group":"White Americans","topic":"X10","theta":0.04,"w":0.018},{"group":"White Americans","topic":"X10","theta":0.685,"w":0.012},{"group":"White Americans","topic":"X10","theta":0.695,"w":0},
{"group":"White Americans","topic":"X11","theta":-0.001,"w":0},{"group":"White Americans","topic":"X11","theta":0,"w":0.7},{"group":"White Americans","topic":"X11","theta":0.006,"w":0.73},{"group":"White Americans","topic":"X11","theta":0.0125,"w":0.74},{"group":"White Americans","topic":"X11","theta":0.027,"w":0.68},{"group":"White Americans","topic":"X11","theta":0.046,"w":0.52},{"group":"White Americans","topic":"X11","theta":0.066,"w":0.38},{"group":"White Americans","topic":"X11","theta":0.085,"w":0.285},{"group":"White Americans","topic":"X11","theta":0.104,"w":0.21},{"group":"White Americans","topic":"X11","theta":0.133,"w":0.16},{"group":"White Americans","topic":"X11","theta":0.181,"w":0.11},{"group":"White Americans","topic":"X11","theta":0.229,"w":0.085},{"group":"White Americans","topic":"X11","theta":0.277,"w":0.07},{"group":"White Americans","topic":"X11","theta":0.374,"w":0.055},{"group":"White Americans","topic":"X11","theta":0.47,"w":0.05},{"group":"White Americans","topic":"X11","theta":0.66,"w":0.05},{"group":"White Americans","topic":"X11","theta":0.81,"w":0.06},{"group":"White Americans","topic":"X11","theta":0.87,"w":0.085},{"group":"White Americans","topic":"X11","theta":0.905,"w":0.09},{"group":"White Americans","topic":"X11","theta":0.922,"w":0.06},{"group":"White Americans","topic":"X11","theta":0.93,"w":0},
{"group":"White Americans","topic":"X12","theta":-0.001,"w":0},{"group":"White Americans","topic":"X12","theta":0,"w":0.74},{"group":"White Americans","topic":"X12","theta":0.003,"w":0.45},{"group":"White Americans","topic":"X12","theta":0.008,"w":0.26},{"group":"White Americans","topic":"X12","theta":0.015,"w":0.13},{"group":"White Americans","topic":"X12","theta":0.025,"w":0.065},{"group":"White Americans","topic":"X12","theta":0.04,"w":0.035},{"group":"White Americans","topic":"X12","theta":0.07,"w":0.022},{"group":"White Americans","topic":"X12","theta":0.12,"w":0.015},{"group":"White Americans","topic":"X12","theta":0.953,"w":0.013},{"group":"White Americans","topic":"X12","theta":0.968,"w":0.035},{"group":"White Americans","topic":"X12","theta":0.981,"w":0.04},{"group":"White Americans","topic":"X12","theta":0.988,"w":0},
{"group":"White Americans","topic":"X13","theta":-0.001,"w":0},{"group":"White Americans","topic":"X13","theta":0,"w":0.74},{"group":"White Americans","topic":"X13","theta":0.003,"w":0.45},{"group":"White Americans","topic":"X13","theta":0.007,"w":0.2},{"group":"White Americans","topic":"X13","theta":0.012,"w":0.09},{"group":"White Americans","topic":"X13","theta":0.02,"w":0.04},{"group":"White Americans","topic":"X13","theta":0.04,"w":0.018},{"group":"White Americans","topic":"X13","theta":0.896,"w":0.012},{"group":"White Americans","topic":"X13","theta":0.906,"w":0},
{"group":"White Americans","topic":"X14","theta":-0.001,"w":0},{"group":"White Americans","topic":"X14","theta":0,"w":0.74},{"group":"White Americans","topic":"X14","theta":0.002,"w":0.44},{"group":"White Americans","topic":"X14","theta":0.005,"w":0.15},{"group":"White Americans","topic":"X14","theta":0.012,"w":0.04},{"group":"White Americans","topic":"X14","theta":0.04,"w":0.015},{"group":"White Americans","topic":"X14","theta":0.677,"w":0.012},{"group":"White Americans","topic":"X14","theta":0.687,"w":0},
{"group":"White Americans","topic":"X15","theta":-0.001,"w":0},{"group":"White Americans","topic":"X15","theta":0,"w":0.74},{"group":"White Americans","topic":"X15","theta":0.002,"w":0.44},{"group":"White Americans","topic":"X15","theta":0.005,"w":0.15},{"group":"White Americans","topic":"X15","theta":0.012,"w":0.04},{"group":"White Americans","topic":"X15","theta":0.04,"w":0.015},{"group":"White Americans","topic":"X15","theta":0.85,"w":0.012},{"group":"White Americans","topic":"X15","theta":0.86,"w":0}
]},
"facet":{
 "row":{"field":"group","type":"nominal","sort":["African Americans","Asian Americans","Hispanic Americans","White Americans"],
  "header":{"labelOrient":"right","labelAngle":90,"labelAlign":"center","labelBaseline":"bottom","labelExpr":"split(datum.value, ' ')","labelFontSize":38,"labelLineHeight":37,"labelColor":"#1A1A1A","labelFont":"Liberation Sans","labelPadding":-14,
   "title":"Theta Values","titleOrient":"left","titleAngle":-90,"titleFontSize":47,"titleFontWeight":"normal","titleColor":"#000000","titleFont":"Liberation Sans","titlePadding":-40}},
 "column":{"field":"topic","type":"nominal","sort":["X1","X2","X3","X4","X5","X6","X7","X8","X9","X10","X11","X12","X13","X14","X15"],
  "header":{"labelOrient":"top","labelFontSize":38,"labelColor":"#1A1A1A","labelFont":"Liberation Sans","labelBaseline":"alphabetic","labelPadding":-13,
   "title":"Topics","titleOrient":"bottom","titleFontSize":47,"titleFontWeight":"normal","titleColor":"#000000","titleFont":"Liberation Sans","titlePadding":90}}
},
"bounds":"flush",
"spacing":{"row":26,"column":25},
"resolve":{"scale":{"x":"independent"}},
"spec":{
 "width":83,"height":371,
 "resolve":{"scale":{"x":"independent"}},
 "layer":[
  {"mark":{"type":"area","orient":"horizontal"},
   "encoding":{
    "y":{"field":"theta","type":"quantitative","scale":{"domain":[-0.048,1.024],"nice":false,"zero":false},
     "axis":{"title":null,"values":[0,0.125,0.25,0.375,0.5,0.625,0.75,0.875,1],"labelExpr":"datum.value % 0.25 === 0 ? format(datum.value, '.2f') : ''","labelOverlap":false,"ticks":false,"domain":false,"labelPadding":24,"labelFontSize":38,"labelColor":"#4D4D4D","labelFont":"Liberation Sans","gridColor":"#EBEBEB","gridWidth":{"condition":{"test":"datum.value % 0.25 === 0","value":3.5},"value":1.8}}},
    "x":{"field":"w","type":"quantitative","scale":{"domain":[-1,1]},"axis":{"orient":"top","values":[0],"grid":true,"labels":false,"ticks":false,"domain":false,"title":null,"gridColor":"#EBEBEB","gridWidth":3.5}},
    "x2":{"datum":0},
    "fill":{"field":"topic","type":"nominal","scale":{"domain":["X1","X2","X3","X4","X5","X6","X7","X8","X9","X10","X11","X12","X13","X14","X15"],"range":["#F8766D","#E58700","#C99800","#A3A500","#6BB100","#00BA38","#00BF7D","#00C0AF","#00BCD8","#00B0F6","#619CFF","#B983FF","#E76BF3","#FD61D1","#FF67A4"]},"legend":null}
   }},
  {"mark":{"type":"area","orient":"horizontal"},
   "encoding":{
    "y":{"field":"theta","type":"quantitative","scale":{"domain":[-0.048,1.024],"nice":false,"zero":false}},
    "x":{"field":"w","type":"quantitative","scale":{"domain":[-1,1],"reverse":true},"axis":null},
    "x2":{"datum":0},
    "fill":{"field":"topic","type":"nominal","legend":null}
   }},
  {"mark":{"type":"line","stroke":"#333333","strokeWidth":3.5,"strokeCap":"round","strokeJoin":"round"},
   "encoding":{
    "y":{"field":"theta","type":"quantitative","scale":{"domain":[-0.048,1.024],"nice":false,"zero":false}},
    "x":{"field":"w","type":"quantitative","scale":{"domain":[-1,1]},"axis":null},
    "order":{"field":"theta","type":"quantitative"}
   }},
  {"mark":{"type":"line","stroke":"#333333","strokeWidth":3.5,"strokeCap":"round","strokeJoin":"round"},
   "encoding":{
    "y":{"field":"theta","type":"quantitative","scale":{"domain":[-0.048,1.024],"nice":false,"zero":false}},
    "x":{"field":"w","type":"quantitative","scale":{"domain":[-1,1],"reverse":true},"axis":null},
    "order":{"field":"theta","type":"quantitative"}
   }},
  {"transform":[{"filter":"datum.group === 'White Americans'"}],
   "mark":{"type":"point","opacity":0},
   "encoding":{
    "x":{"field":"topic","type":"nominal","axis":{"orient":"bottom","title":null,"labelAngle":-45,"labelAlign":"right","labelBaseline":"top","labelFontSize":38,"labelColor":"#4D4D4D","labelFont":"Liberation Sans","ticks":false,"domain":false,"grid":false,"labelPadding":6}}
   }}
 ]
}
}
